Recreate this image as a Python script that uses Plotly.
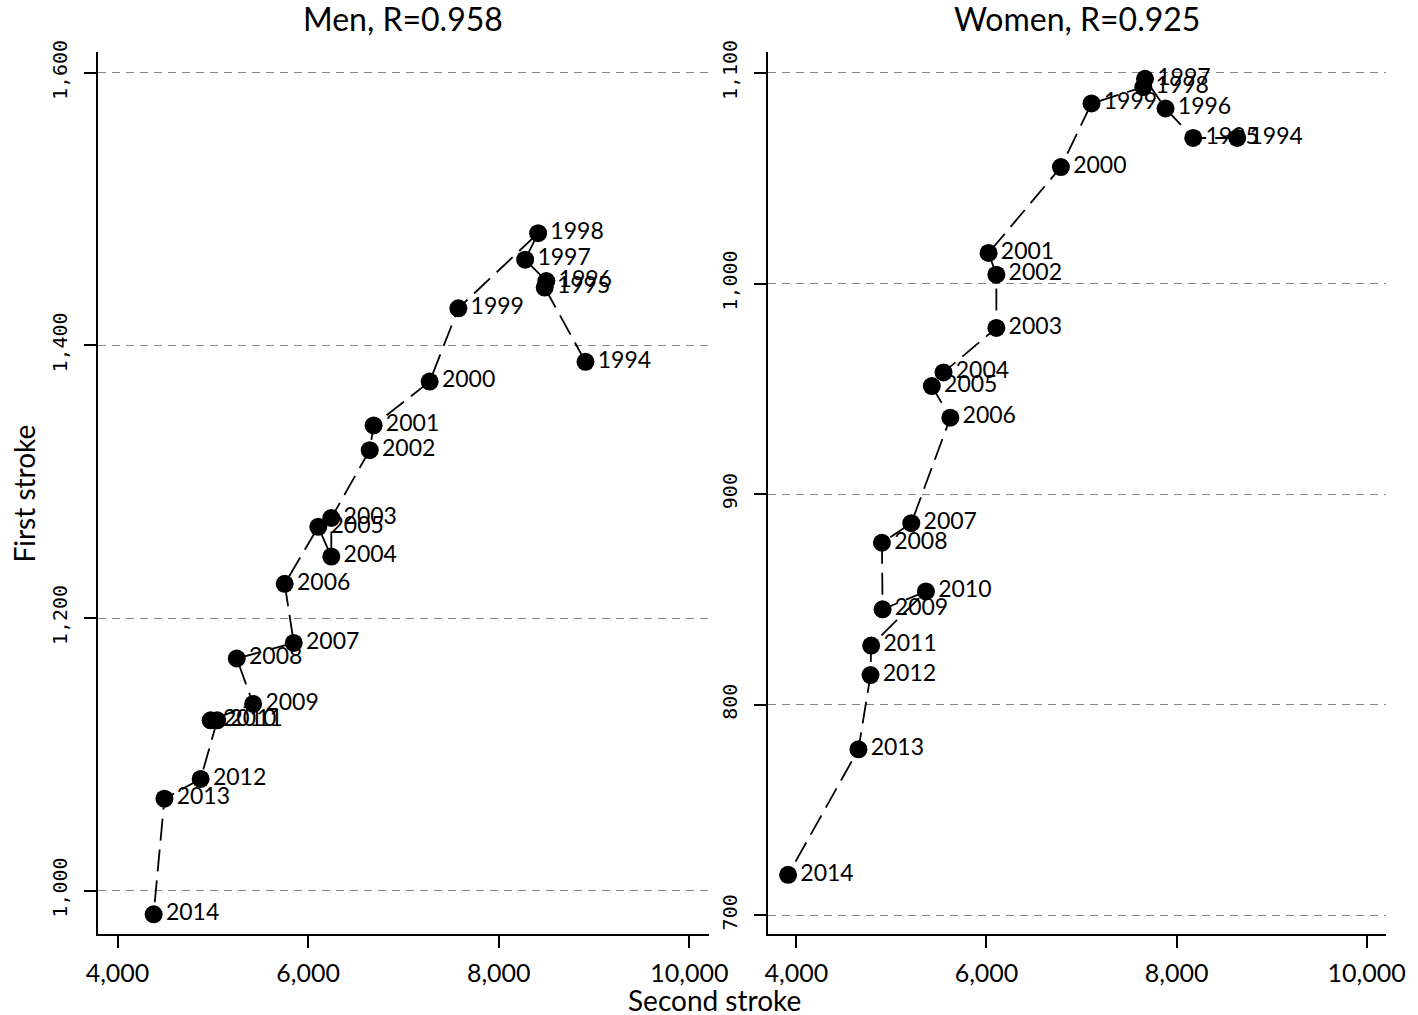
import plotly.graph_objects as go

years = [str(y) for y in range(1994, 2015)]

men_second = [8910, 8482, 8499, 8277, 8413, 7576, 7275, 6687, 6646, 6243, 6243,
              6106, 5754, 5849, 5251, 5423, 4977, 5046, 4872, 4492, 4379]
men_first = [1388, 1442.5, 1447.3, 1463, 1482.4, 1427.3, 1373.5, 1341.3, 1323.2, 1273.4, 1245.1,
             1266.9, 1225.1, 1181.7, 1170.3, 1137.0, 1124.9, 1124.9, 1081.9, 1067.4, 982.6]

women_second = [8638, 8175, 7884, 7668, 7650, 7105, 6783, 6022, 6104, 6104, 5548,
                5425, 5620, 5209, 4900, 4907, 5363, 4787, 4780, 4653, 3913]
women_first = [1069.1, 1069.1, 1083.1, 1097.2, 1093.3, 1085.5, 1055.3, 1014.5, 1004.2, 978.9, 957.8,
               951.3, 936.3, 886.2, 876.9, 845.3, 853.8, 828.1, 814.1, 778.8, 719.2]

x_ticks = [4000, 6000, 8000, 10000]
men_y_ticks = [1000, 1200, 1400, 1600]
women_y_ticks = [700, 800, 900, 1000, 1100]

titles = ["Men, R=0.958", "Women, R=0.925"]
x_title = "Second stroke"
y_title = "First stroke"

W, H = 1418, 1015
LBL_FONT = dict(family="Lato, Open Sans, sans-serif", size=23, color="black")
TICK_FONT_X = dict(family="Lato, Open Sans, sans-serif", size=25, color="black")
TICK_FONT_Y = dict(family="DejaVu Sans Mono, Liberation Mono, monospace", size=20, color="black")

fig = go.Figure()

def add_series(xs, ys, xa, ya):
    fig.add_trace(go.Scatter(
        x=xs, y=ys, text=years, mode="lines+markers+text",
        textposition="middle right", textfont=LBL_FONT,
        line=dict(color="black", width=1.8, dash="22px,9px"),
        marker=dict(color="black", size=18),
        xaxis=xa, yaxis=ya, showlegend=False, cliponaxis=False,
    ))

add_series(men_second, men_first, "x", "y")
add_series(women_second, women_first, "x2", "y2")

ydom = [(H - 933) / H, (H - 40) / H]
xdom1 = [87.5 / W, 713 / W]
xdom2 = [773.5 / W, 1406 / W]

common_x = dict(
    tickvals=x_ticks, tickformat=",d", ticks="outside", ticklen=12, tickwidth=1.5,
    tickcolor="black", showline=True, linecolor="black", linewidth=1.5,
    showgrid=False, zeroline=False, tickfont=TICK_FONT_X, ticklabelstandoff=4,
)
common_y = dict(
    tickformat=",d", ticks="outside", ticklen=12, tickwidth=1.5, tickcolor="black",
    showline=True, linecolor="black", linewidth=1.5, showgrid=True,
    gridcolor="#858585", gridwidth=1.2, griddash="8px,6px", zeroline=False,
    tickfont=TICK_FONT_Y, tickangle=-90, ticklabelstandoff=9,
)

fig.update_layout(
    width=W, height=H, margin=dict(l=0, r=0, t=0, b=0),
    paper_bgcolor="white", plot_bgcolor="white",
    xaxis=dict(domain=xdom1, range=[3790, 10205], anchor="y", **common_x),
    yaxis=dict(domain=ydom, range=[968.1, 1615], anchor="x", tickvals=men_y_ticks, **common_y),
    xaxis2=dict(domain=xdom2, range=[3702, 10206], anchor="y2", **common_x),
    yaxis2=dict(domain=ydom, range=[691.1, 1109.7], anchor="x2", tickvals=women_y_ticks, **common_y),
)

TITLE_FONT = dict(family="Lato, Open Sans, sans-serif", size=32, color="black")
fig.add_annotation(text=titles[0], x=sum(xdom1) / 2, y=1, yshift=16, xref="paper", yref="paper",
                   showarrow=False, xanchor="center", yanchor="top", font=TITLE_FONT)
fig.add_annotation(text=titles[1], x=sum(xdom2) / 2, y=1, yshift=16, xref="paper", yref="paper",
                   showarrow=False, xanchor="center", yanchor="top", font=TITLE_FONT)
AX_FONT = dict(family="Lato, Open Sans, sans-serif", size=28, color="black")
fig.add_annotation(text=x_title, x=719 / W, y=1 - 1000 / H, xref="paper", yref="paper",
                   showarrow=False, xanchor="center", yanchor="middle", font=AX_FONT)
fig.add_annotation(text=y_title, x=12 / W, y=1 - 487 / H, xref="paper", yref="paper",
                   showarrow=False, xanchor="center", yanchor="middle", textangle=-90, font=AX_FONT)

fig.write_html(
    "out.html",
    config={"displayModeBar": False},
    post_script="document.body.style.margin='0';document.body.style.padding='0';"
                "document.documentElement.style.overflow='hidden';",
)
